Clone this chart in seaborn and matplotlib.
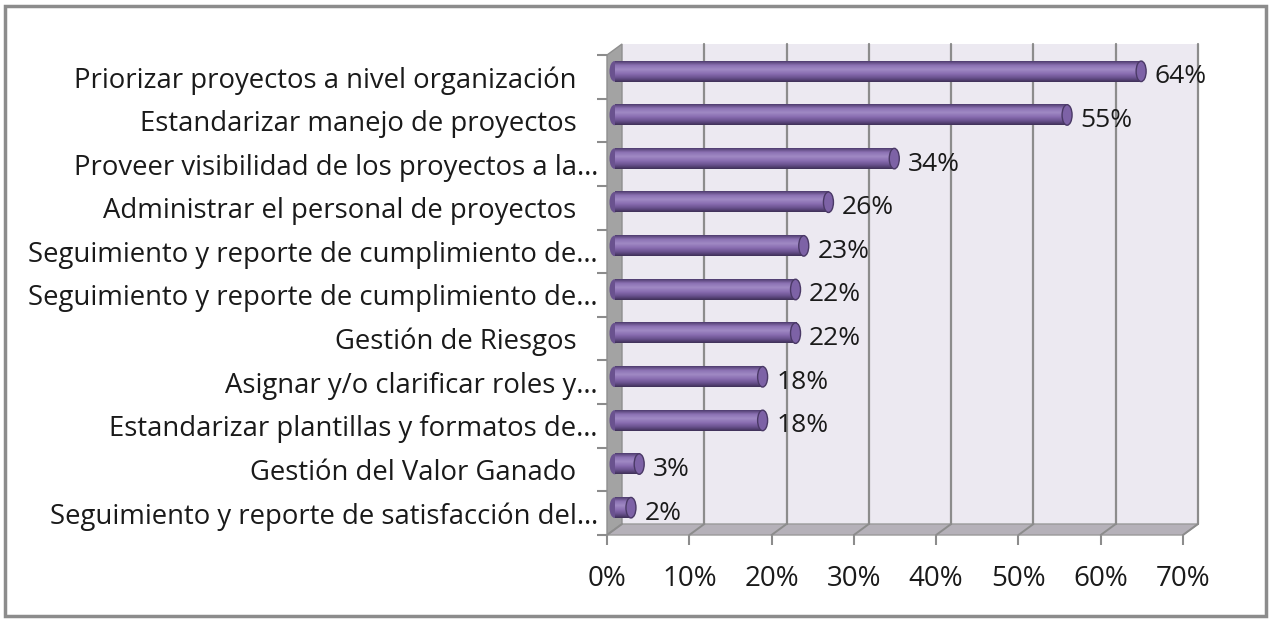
import numpy as np
import pandas as pd
import matplotlib
matplotlib.use("Agg")
import matplotlib.pyplot as plt
import matplotlib.transforms as mtransforms
from matplotlib.patches import Polygon, Rectangle, Ellipse
from matplotlib.colors import to_rgb
import seaborn as sns

# datos (las etiquetas con espacios finales vienen asi de Excel)
categorias = [
    "Priorizar proyectos a nivel organización   ",
    "Estandarizar manejo de proyectos   ",
    "Proveer visibilidad de los proyectos a la…",
    "Administrar el personal de proyectos   ",
    "Seguimiento y reporte de cumplimiento de…",
    "Seguimiento y reporte de cumplimiento de…",
    "Gestión de Riesgos   ",
    "Asignar y/o clarificar roles y…",
    "Estandarizar plantillas y formatos de…",
    "Gestión del Valor Ganado   ",
    "Seguimiento y reporte de satisfacción del…",
]
porcentajes = [64, 55, 34, 26, 23, 22, 22, 18, 18, 3, 2]
ticks_x = [0, 10, 20, 30, 40, 50, 60, 70]

data = pd.DataFrame({"Objetivo": range(len(categorias)), "Porcentaje": porcentajes})

sns.set_style("white")
plt.rcParams["font.family"] = ["Open Sans", "DejaVu Sans"]

W, H = 1272, 622
fig = plt.figure(figsize=(W / 100, H / 100), dpi=100)
ax = fig.add_axes([607 / W, 1 - 535 / H, 576 / W, 480 / H])

dx, dy = 15, 11  # profundidad del efecto 3D en pixeles


def shift(px, py):
    return mtransforms.ScaledTranslation(px / 100, py / 100, fig.dpi_scale_trans)


sns.barplot(data=data, x="Porcentaje", y="Objetivo", orient="h",
            color="#8064A2", width=0.47, ax=ax, zorder=3)
ax.set_xlim(0, 70)
ax.set_ylim(len(categorias) - 0.5, -0.5)
ax.patch.set_facecolor("none")
for s in ax.spines.values():
    s.set_visible(False)

# paredes y piso
ident = mtransforms.IdentityTransform()
a0 = ax.transAxes.transform((0, 0))
a1 = ax.transAxes.transform((0, 1))
b0 = ax.transAxes.transform((1, 0))
ax.add_patch(Rectangle((0, 0), 1, 1, transform=ax.transAxes + shift(dx, dy),
                       fc="#ECE9F1", ec="none", zorder=0, clip_on=False))
ax.add_patch(Polygon([a0, a1, a1 + (dx, dy), a0 + (dx, dy)], closed=True,
                     transform=ident, fc="#A3A3A3", ec="#8E8E8E", lw=1,
                     zorder=1, clip_on=False))
ax.add_patch(Polygon([a0, b0, b0 + (dx, dy), a0 + (dx, dy)], closed=True,
                     transform=ident, fc="#B5B1B9", ec="#9A9A9A", lw=1,
                     zorder=1, clip_on=False))

# rejilla en la pared del fondo y en el piso
for t in ticks_x:
    if t > 0:
        ax.plot([t, t], [0, 1], transform=ax.get_xaxis_transform() + shift(dx, dy),
                color="#8C8C8C", lw=1.6, zorder=1, clip_on=False)
    p = ax.get_xaxis_transform().transform((t, 0))
    ax.plot([p[0], p[0] + dx], [p[1], p[1] + dy], transform=ident,
            color="#8C8C8C", lw=1.4, zorder=1.5, clip_on=False)

# barras cilindricas
stops = [to_rgb("#4E3C6E"), to_rgb("#8C72B4"), to_rgb("#A08AC4"),
         to_rgb("#8A6EB2"), to_rgb("#6A528F"), to_rgb("#3F3058")]
pos = np.linspace(0, 1, len(stops))
yy = np.linspace(0, 1, 64)
grad = np.stack([np.interp(yy, pos, [c[k] for c in stops]) for k in range(3)], axis=-1)
grad = grad[:, None, :]

bar_trans = ax.transData + shift(dx / 2, dy / 2)
cap_w = 10 / (576 / 70)
for patch in ax.patches[:]:
    if not isinstance(patch, Rectangle) or patch.get_zorder() != 3:
        continue
    x0, y0 = patch.get_x(), patch.get_y()
    w, h = patch.get_width(), patch.get_height()
    patch.set_visible(False)
    yc = y0 + h / 2
    ax.add_patch(Ellipse((x0, yc), cap_w, h, transform=bar_trans,
                         fc="#6A528F", ec="none", zorder=3, clip_on=False))
    ax.imshow(grad, extent=(x0, x0 + w, y0 + h, y0), transform=bar_trans,
              aspect="auto", interpolation="bilinear", zorder=3.5, clip_on=False)
    ax.add_patch(Ellipse((x0 + w, yc), cap_w, h, transform=bar_trans,
                         fc="#7D62A6", ec="#4A3966", lw=1.0, zorder=4, clip_on=False))

ax.set_xlim(0, 70)
ax.set_ylim(len(categorias) - 0.5, -0.5)

# etiquetas de datos
lab_trans = ax.transData + shift(21, 0)
for i, v in enumerate(porcentajes):
    ax.text(v, i, f"{v}%", transform=lab_trans, ha="left", va="center",
            fontsize=19, color="#1A1A1A", zorder=5)

# ejes
ax.set_xticks(ticks_x)
ax.set_xticklabels([f"{t}%" for t in ticks_x])
ax.set_yticks(range(len(categorias)))
ax.set_yticklabels(categorias)
ax.set_yticks(np.arange(-0.5, len(categorias)), minor=True)
ax.tick_params(axis="x", which="major", length=7.5, width=1.5, color="#8C8C8C",
               pad=14, labelsize=20, labelcolor="#1A1A1A", bottom=True)
ax.tick_params(axis="y", which="major", length=0, pad=6.5, labelsize=19.8,
               labelcolor="#1A1A1A")
ax.tick_params(axis="y", which="minor", length=7.5, width=1.5, color="#8C8C8C",
               left=True)
ax.set_xlabel("")
ax.set_ylabel("")

# marco exterior
fig.patches.append(Rectangle((5 / W, 6 / H), 1261 / W, 610 / H, transform=fig.transFigure,
                             fill=False, ec="#8C8C8C", lw=2.5))

fig.savefig("out.png", dpi=100)
